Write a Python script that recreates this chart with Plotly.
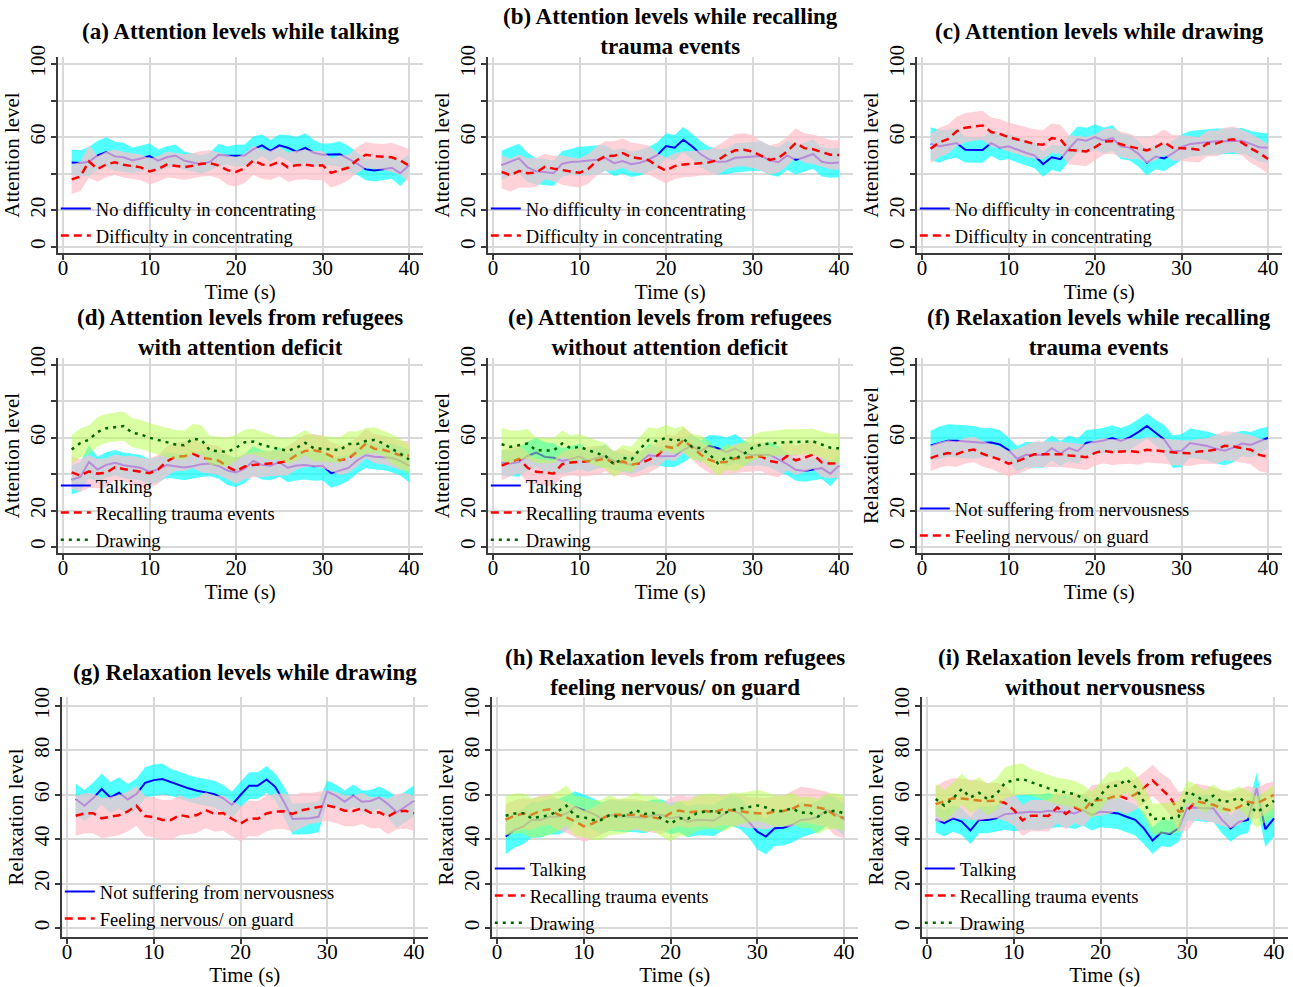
import plotly.graph_objects as go

# ---------------- data ----------------
t = list(range(1, 41))

# Attention level means (per second) and CI half-widths
att_talk_nodef = [46.2,45.9,46.6,50,51.9,49.5,49,47.3,48.3,49.7,47.2,49,50,47.2,46.2,45.1,46.6,50.4,49.9,49.9,
                  50,53.4,55.5,52.5,55.5,54.2,52.1,54.1,51.5,50.4,50.7,50.7,48.1,45.5,42.4,41.8,42.5,43.3,40.3,44.7]
ci_att_talk_nodef = [7,7,8,8,8,8,8,7,7,7,6,6,6,5,5,5,5,6,5,6,6,7,6,6,6,7,8,8,7,6,6,7,7,6,6,6,6,6,7,6]
att_talk_def = [36.9,38.5,46.7,42.6,45.1,46.3,44.9,44.2,43.5,41.3,42.6,45,44.5,43.6,44.4,45.5,45.8,44.5,42,41,
                43,47.3,45.1,44.6,46.6,43.5,44.7,45,44.4,44.6,40.5,42,43.4,47.5,50.4,49.6,49.3,49,47.3,44.5]
ci_att_talk_def = [8,8,9,7,7,7,7,7,7,7,7,7,7,7,7,7,7,7,8,8,8,8,8,8,8,8,8,8,8,8,8,8,7,7,7,7,7,8,8,9]
att_recall_nodef = [44.7,46.7,48.4,43.5,41.3,41,40.3,45.5,46.4,46.7,47,47.6,48.6,45.8,47,45.2,46,47.8,50.2,55.1,
                    54.2,58.6,55,50.8,47.8,46.5,46.7,48.7,49,49.5,49.7,47.3,46.3,50,47.6,49,50.8,46.5,45.8,46.1]
ci_att_recall_nodef = [8,8,8,8,7,7,7,7,7,8,8,8,7,7,7,7,7,7,7,7,7,7,7,7,7,7,7,8,8,8,8,8,8,8,8,8,8,8,8,8]
att_recall_def = [41,39.2,41.5,40.3,40.7,43.8,42.8,42,41,40.5,42.6,47,49.7,49.8,51.3,49,48.4,47.4,44.2,41.7,
                  44.2,45.1,45.4,46,46.3,47.4,50.6,52.8,53.1,52.2,49.7,47.6,48.7,52.2,56.8,54,53.4,52,50.4,50.2]
ci_att_recall_def = [9,9,9,8,8,7,7,8,8,8,8,8,8,8,8,8,8,8,7,7,7,7,7,7,7,8,8,9,9,9,8,8,8,8,8,8,8,8,8,8]
att_draw_nodef = [56.4,55,55.9,56.8,53.1,53,53,56.8,54.2,55,53.1,51.5,50,45.3,49,48,53.8,58.8,58.1,60,
                  58.2,59.5,55,54.3,51,46,49.4,48.4,51.2,54.5,56.3,56.8,57.1,57.7,57.7,57.7,58,56.3,54.5,54.2]
ci_att_draw_nodef = [9,9,8,8,7,7,7,7,7,7,7,7,7,7,7,7,7,7,7,7,7,7,7,7,7,7,7,7,7,7,7,7,7,7,7,7,7,7,8,8]
att_draw_def = [53.6,57.1,58.9,63.2,65.2,66,66.4,62.8,61.8,60,58.8,57.2,56.3,55.9,59.5,58.8,53,52.7,52.2,54.5,
                57.5,57.9,56.1,54.9,54,52.8,54.5,57.2,54.2,54,53.7,53.1,56.6,56.5,58.2,58.8,57,53.9,51.3,48.1]
ci_att_draw_def = [8,8,8,8,8,8,8,8,8,8,8,8,8,8,8,8,8,8,8,7,7,7,7,7,6,7,7,7,7,7,7,7,7,7,7,7,7,8,8,8]

# Relaxation level means and CI half-widths
rel_talk_nerv = [41.2,44.2,45.7,48.7,48.7,50.1,50.1,51.6,54.6,53.1,51.6,49.4,50.9,50.4,50.1,50.1,49.7,50.9,50.9,49.4,
                 50.1,47.9,48.7,48.7,48.4,50.9,53.1,51.6,47.9,43.4,41.2,44.9,45.2,46.4,48.7,49,50.1,53.1,51.6,48.7]
ci_rel_talk_nerv = [8,8,8,8,8,8,8,8,7,7,7,7,7,7,7,7,7,7,7,7,7,7,7,7,7,7,7,7,7,8,8,8,8,8,8,7,7,7,7,7]
rel_talk_calm = [49,47.2,49.4,47.9,43.9,48.7,48.7,49.4,51.3,51.6,51.9,52.4,52.1,52.8,52.4,52.4,51.6,53.1,50.9,52.4,
                 52.1,51.6,50.1,48.7,44.9,39.4,43,42.4,44.9,54.2,54.3,53.9,53.9,48.7,44.9,47.9,48.7,62.9,44.5,49.4]
ci_rel_talk_calm = [6,6,6,6,6,6,6,6,7,8,8,8,8,8,7,7,7,7,7,7,7,7,7,7,7,6,6,6,6,6,6,6,6,6,6,6,6,7,8,8]
rel_recall_calm = [55.8,57.2,58.4,58.3,57.8,57.4,57.2,57.4,56.3,53.2,48.5,50.6,50.6,50.5,54.3,51.4,54.3,52.6,57.3,57.6,
                   58.5,59.8,58.3,60.2,63.1,66.5,62.7,59,52.4,52.9,57.1,56.3,55.5,53.9,52.9,54.6,56.8,56.1,58.1,60]
ci_rel_recall_calm = [8,9,9,9,9,9,8,8,8,7,7,7,7,7,7,7,7,7,7,7,7,7,7,7,7,7,7,8,9,9,8,8,8,8,8,8,7,7,7,6]
rel_recall_nerv = [48.8,50.5,51.6,51,52.8,53.5,51.2,49.8,48,45.8,47,49,51,51,51,51,50.3,49.8,49.3,51.7,
                   52.9,52.1,52.5,52.7,52.2,53.4,53,52.7,52,51.6,51.5,52.5,52.7,53.6,55.6,55.2,54.3,53.4,50.6,49.6]
ci_rel_recall_nerv = [7,7,7,7,7,7,7,7,7,7,7,7,7,7,7,7,7,7,7,7,7,7,7,7,7,7,7,7,7,7,7,7,7,8,8,8,8,8,9,9]
rel_draw_calm = [58.1,55.1,58.4,62.6,58.8,60.9,57.9,60.3,65.4,66.6,67.1,65.6,64.4,62.9,61.8,61.1,60.3,58.4,55.4,59.9,
                 64.1,64.1,66.9,63.6,56.9,49.1,49.1,49.4,50.1,61.4,59.6,56.9,59.6,56.9,57.2,58.7,55.8,52.1,54.6,57.3]
ci_rel_draw_calm = [7,7,7,7,7,7,7,7,7,7,7,6,6,6,6,6,6,6,6,6,6,6,6,6,7,7,7,7,7,5,5,5,5,5,5,5,6,7,7,7]
rel_draw_nerv = [50.6,51.6,51.7,49.4,50.1,50.8,52.5,55.1,50.4,49.9,48.7,48.7,50.9,50.1,50.9,53.1,51.4,51.8,49.2,47,
                 49.4,49.2,51.6,52.5,52.6,51.4,53,53.8,54.4,55.2,54.3,52.8,52.7,53.9,51.9,52.1,50.2,52.4,52.8,51.7]
ci_rel_draw_nerv = [9,9,9,9,9,9,9,9,9,9,9,9,9,8,8,8,8,8,8,8,8,8,8,8,8,8,8,7,7,7,7,7,7,7,7,7,8,8,8,8]

x_ticks = [0, 10, 20, 30, 40]
y_ticks = [0, 20, 40, 60, 80, 100]
y_text_sparse = ["0", "20", "", "60", "", "100"]
y_text_full = ["0", "20", "40", "60", "80", "100"]

lab_nodiff = "No difficulty in concentrating"
lab_diff = "Difficulty in concentrating"
lab_calm = "Not suffering from nervousness"
lab_nerv = "Feeling nervous/ on guard"
lab_talk, lab_recall, lab_draw = "Talking", "Recalling trauma events", "Drawing"

panels = [
    ("(a) Attention levels while talking", "Attention level",
     [(lab_nodiff, att_talk_nodef, ci_att_talk_nodef), (lab_diff, att_talk_def, ci_att_talk_def)]),
    ("(b) Attention levels while recalling<br>trauma events", "Attention level",
     [(lab_nodiff, att_recall_nodef, ci_att_recall_nodef), (lab_diff, att_recall_def, ci_att_recall_def)]),
    ("(c) Attention levels while drawing", "Attention level",
     [(lab_nodiff, att_draw_nodef, ci_att_draw_nodef), (lab_diff, att_draw_def, ci_att_draw_def)]),
    ("(d) Attention levels from refugees<br>with attention deficit", "Attention level",
     [(lab_talk, att_talk_def, ci_att_talk_def), (lab_recall, att_recall_def, ci_att_recall_def),
      (lab_draw, att_draw_def, ci_att_draw_def)]),
    ("(e) Attention levels from refugees<br>without attention deficit", "Attention level",
     [(lab_talk, att_talk_nodef, ci_att_talk_nodef), (lab_recall, att_recall_nodef, ci_att_recall_nodef),
      (lab_draw, att_draw_nodef, ci_att_draw_nodef)]),
    ("(f) Relaxation levels while recalling<br>trauma events", "Relaxation level",
     [(lab_calm, rel_recall_calm, ci_rel_recall_calm), (lab_nerv, rel_recall_nerv, ci_rel_recall_nerv)]),
    ("(g) Relaxation levels while drawing", "Relaxation level",
     [(lab_calm, rel_draw_calm, ci_rel_draw_calm), (lab_nerv, rel_draw_nerv, ci_rel_draw_nerv)]),
    ("(h) Relaxation levels from refugees<br>feeling nervous/ on guard", "Relaxation level",
     [(lab_talk, rel_talk_nerv, ci_rel_talk_nerv), (lab_recall, rel_recall_nerv, ci_rel_recall_nerv),
      (lab_draw, rel_draw_nerv, ci_rel_draw_nerv)]),
    ("(i) Relaxation levels from refugees<br>without nervousness", "Relaxation level",
     [(lab_talk, rel_talk_calm, ci_rel_talk_calm), (lab_recall, rel_recall_calm, ci_rel_recall_calm),
      (lab_draw, rel_draw_calm, ci_rel_draw_calm)]),
]

# ---------------- styling / layout ----------------
W, H = 1293, 987
FONT = "Liberation Serif"
band_colors = ["rgba(0,255,255,0.68)", "rgba(255,192,203,0.72)", "rgba(180,255,70,0.5)"]
line_styles = [dict(color="#0000FF", width=2, dash="solid"),
               dict(color="#FF0000", width=2.5, dash="8px,5px"),
               dict(color="#006400", width=2.5, dash="3px,5px")]

rows = [dict(top=57, bot=253, yr=[-3.3, 103.8], x0=[63, 493, 922], sc=8.65, ytext=y_text_sparse, title_cy=32),
        dict(top=358, bot=553, yr=[-3.3, 103.8], x0=[63, 493, 922], sc=8.65, ytext=y_text_sparse, title_cy=333),
        dict(top=697, bot=937, yr=[-4, 104], x0=[67, 497, 927], sc=8.675, ytext=y_text_full, title_cy=672)]
leg_tops = [190, 190, 190, 467, 467, 490, 873, 850, 850]
XR = [-0.6, 41.6]

fig = go.Figure()
layout = dict(width=W, height=H, margin=dict(l=0, r=0, t=0, b=0, pad=0), autosize=False,
              paper_bgcolor="white", plot_bgcolor="white", hovermode=False,
              font=dict(family=FONT, color="black"), annotations=[])

axis_common = dict(showgrid=True, gridcolor="#d9d9d9", gridwidth=1.5, zeroline=False,
                   showline=True, linecolor="#3a3a3a", linewidth=1.5,
                   ticks="outside", ticklen=5, tickwidth=1.5, tickcolor="#3a3a3a",
                   tickfont=dict(family=FONT, size=21, color="black"), fixedrange=True,
                   automargin=False)

for i, (title, ylab, series) in enumerate(panels):
    r, c = divmod(i, 3)
    R = rows[r]
    x0 = R["x0"][c]
    left = x0 + XR[0] * R["sc"]
    right = x0 + XR[1] * R["sc"]
    n = "" if i == 0 else str(i + 1)
    xa, ya = "x" + n, "y" + n
    leg = "legend" + n

    layout["xaxis" + n] = dict(axis_common, domain=[left / W, right / W], range=XR, anchor=ya,
                               tickvals=x_ticks, ticklabelstandoff=-10,
                               title=dict(text="Time (s)", font=dict(family=FONT, size=21), standoff=0))
    layout["yaxis" + n] = dict(axis_common, domain=[1 - R["bot"] / H, 1 - R["top"] / H], range=R["yr"],
                               anchor=xa, tickvals=y_ticks, ticktext=R["ytext"], tickangle=-90,
                               ticklabelstandoff=-2,
                               title=dict(text=ylab, font=dict(family=FONT, size=21), standoff=0))
    layout[leg] = dict(x=(left - 2) / W, y=1 - leg_tops[i] / H, xanchor="left", yanchor="top",
                       bgcolor="rgba(0,0,0,0)", borderwidth=0, itemwidth=30, tracegroupgap=0,
                       traceorder="normal", font=dict(family=FONT, size=18.5, color="black"))
    layout["annotations"].append(dict(text=title, xref="paper", yref="paper",
                                      x=(left + right) / 2 / W, y=1 - R["title_cy"] / H,
                                      xanchor="center", yanchor="middle", showarrow=False,
                                      font=dict(family=FONT, size=23, color="black", weight="bold")))

    for k, (name, mean, ci) in enumerate(series):
        upper = [m + h for m, h in zip(mean, ci)]
        lower = [m - h for m, h in zip(mean, ci)]
        fig.add_trace(go.Scatter(x=t + t[::-1], y=upper + lower[::-1], fill="toself",
                                 fillcolor=band_colors[k], line=dict(width=0), mode="lines",
                                 showlegend=False, hoverinfo="skip", xaxis=xa, yaxis=ya))
        fig.add_trace(go.Scatter(x=t, y=mean, mode="lines", name=name, line=line_styles[k],
                                 legend=leg, showlegend=True, xaxis=xa, yaxis=ya))

fig.update_layout(**layout)
fig.write_html("out.html", config={"displayModeBar": False},
               post_script="document.body.style.margin='0';document.body.style.overflow='hidden';")
